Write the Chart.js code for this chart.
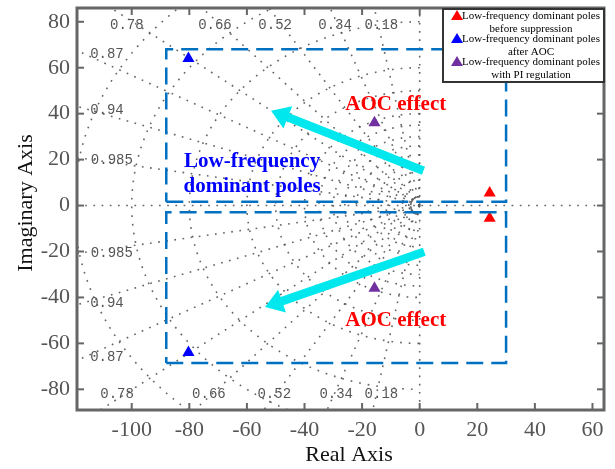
<!DOCTYPE html>
<html><head><meta charset="utf-8">
<script src="https://cdn.jsdelivr.net/npm/chart.js@4"></script>
<style>html,body{margin:0;padding:0;background:#fff;overflow:hidden}#wrap{width:615px;height:469px;position:relative}</style>
</head><body><div id="wrap"><canvas id="c" width="615" height="469"></canvas></div>
<script>
// ---- data ----
const xTicks = [-100, -80, -60, -40, -20, 0, 20, 40, 60];
const yTicks = [-80, -60, -40, -20, 0, 20, 40, 60, 80];
const xRange = [-119, 64];
const yRange = [-89, 86];
const xTitle = 'Real Axis';
const yTitle = 'Imaginary Axis';

const seriesLine1 = ['Low-frequency dominant poles', 'Low-frequency dominant poles', 'Low-frequency dominant poles'];
const seriesLine2 = ['before suppression', 'after AOC', 'with PI regulation'];
const seriesColors = ['#FF0000', '#0000FF', '#7030A0'];
const beforeRe = [24.3, 24.3];
const beforeIm = [5.5, -5.5];
const aocRe = [-80.3, -80.3];
const aocIm = [64, -64];
const piRe = [-15.7, -15.7];
const piIm = [36, -36];

const dampingRatios = [0.18, 0.34, 0.52, 0.66, 0.78, 0.87, 0.94, 0.985];
const naturalFreqs = [3.8, 7.5, 11, 14.5, 18, 22, 26, 30, 35, 40, 50, 60, 80, 100, 120];
const dampLabelText = ['0.78', '0.66', '0.52', '0.34', '0.18', '0.87', '0.94', '0.985'];
const dampLabelXTop = [-101.7, -71.1, -50.2, -29.4, -13.3, -108.6, -108.6, -106.9];
const dampLabelYTop = [78.6, 78.6, 78.6, 78.6, 78.6, 66, 41.6, 19.9];
const dampLabelXBot = [-105.1, -73.2, -50.5, -29.0, -13.3, -108.6, -108.6, -106.9];
const dampLabelYBot = [-82.3, -82.3, -82.3, -82.3, -82.3, -66.2, -42.7, -20.6];

const rectRe = [-88, 30];
const upperRectIm = [1.7, 68];
const lowerRectIm = [-68.5, -2.9];

const arrowTailRe = [1.3, 1.6];
const arrowTailIm = [15.1, -20.1];
const arrowTipRe = [-51.6, -53.7];
const arrowTipIm = [41.3, -44.2];

const noteAOCRe = [-8.3, -8.3];
const noteAOCIm = [41.6, -52.3];
const noteLowRe = -58.2;
const noteLowIm = [16.8, 5.8];
const noteLowText = ['Low-frequency', 'dominant poles'];

// ---- helpers ----
const pts = (xs, ys) => xs.map((x, i) => ({x: x, y: ys[i]}));
const rectPts = (xs, ys) => [
  {x: xs[0], y: ys[0]}, {x: xs[1], y: ys[0]}, {x: xs[1], y: ys[1]}, {x: xs[0], y: ys[1]}, {x: xs[0], y: ys[0]}
];
const SERIF = '"Liberation Serif", "Times New Roman", serif';

function triangle(ctx, x, y, w, h, color) {
  ctx.beginPath();
  ctx.moveTo(x, y - h * 0.6);
  ctx.lineTo(x + w / 2, y + h * 0.4);
  ctx.lineTo(x - w / 2, y + h * 0.4);
  ctx.closePath();
  ctx.fillStyle = color;
  ctx.fill();
}

const gridPlugin = {
  id: 'sgrid',
  beforeDatasetsDraw(chart) {
    const {ctx, chartArea: a, scales: {x, y}} = chart;
    ctx.save();
    ctx.beginPath();
    ctx.rect(a.left, a.top, a.right - a.left, a.bottom - a.top);
    ctx.clip();
    ctx.strokeStyle = 'rgba(85,85,85,0.9)';
    ctx.lineWidth = 1.6;
    ctx.setLineDash([1.7, 6.5]);
    const X = v => x.getPixelForValue(v), Y = v => y.getPixelForValue(v);
    ctx.beginPath(); ctx.moveTo(X(xRange[0]), Y(0)); ctx.lineTo(X(xRange[1]), Y(0)); ctx.stroke();
    ctx.beginPath(); ctx.moveTo(X(0), Y(yRange[0])); ctx.lineTo(X(0), Y(yRange[1])); ctx.stroke();
    dampingRatios.forEach(z => {
      const s = Math.sqrt(1 - z * z), L = 400;
      [1, -1].forEach(sg => {
        ctx.beginPath(); ctx.moveTo(X(0), Y(0)); ctx.lineTo(X(-z * L), Y(sg * s * L)); ctx.stroke();
      });
    });
    naturalFreqs.forEach((w, k) => {
      ctx.setLineDash(k === 0 ? [2, 1.5] : [1.7, 7]);
      ctx.beginPath();
      for (let i = 0; i <= 180; i++) {
        const t = Math.PI / 2 + Math.PI * i / 180;
        const px = X(w * Math.cos(t)), py = Y(w * Math.sin(t));
        if (i === 0) ctx.moveTo(px, py); else ctx.lineTo(px, py);
      }
      ctx.stroke();
    });
    ctx.setLineDash([]);
    ctx.fillStyle = '#555';
    ctx.font = '14px "Liberation Mono", "DejaVu Sans Mono", monospace';
    ctx.textAlign = 'center';
    ctx.textBaseline = 'middle';
    dampLabelText.forEach((t, i) => {
      ctx.fillText(t, X(dampLabelXTop[i]), Y(dampLabelYTop[i]));
      ctx.fillText(t, X(dampLabelXBot[i]), Y(dampLabelYBot[i]));
    });
    ctx.restore();
  },
  afterDatasetsDraw(chart) {
    const {ctx, scales: {x, y}} = chart;
    const X = v => x.getPixelForValue(v), Y = v => y.getPixelForValue(v);
    ctx.save();
    arrowTailRe.forEach((_, i) => {
      const tx = X(arrowTailRe[i]), ty = Y(arrowTailIm[i]);
      const hx = X(arrowTipRe[i]), hy = Y(arrowTipIm[i]);
      const dx = hx - tx, dy = hy - ty, len = Math.hypot(dx, dy);
      const ux = dx / len, uy = dy / len, nx = -uy, ny = ux;
      const sw = 4.3, hw = 12, hl = 18;
      const bx = hx - ux * hl, by = hy - uy * hl;
      ctx.beginPath();
      ctx.moveTo(tx + nx * sw, ty + ny * sw);
      ctx.lineTo(bx + nx * sw, by + ny * sw);
      ctx.lineTo(bx + nx * hw, by + ny * hw);
      ctx.lineTo(hx, hy);
      ctx.lineTo(bx - nx * hw, by - ny * hw);
      ctx.lineTo(bx - nx * sw, by - ny * sw);
      ctx.lineTo(tx - nx * sw, ty - ny * sw);
      ctx.closePath();
      ctx.fillStyle = '#00E8EE';
      ctx.fill();
    });
    ctx.textBaseline = 'alphabetic';
    ctx.textAlign = 'center';
    ctx.font = 'bold 21px ' + SERIF;
    ctx.fillStyle = '#FF0000';
    noteAOCRe.forEach((r, i) => ctx.fillText('AOC effect', X(r), Y(noteAOCIm[i])));
    ctx.fillStyle = '#0000FF';
    noteLowText.forEach((t, i) => ctx.fillText(t, X(noteLowRe), Y(noteLowIm[i])));
    ctx.restore();
  },
  afterDraw(chart) {
    const {ctx, chartArea: a, scales: {x, y}} = chart;
    ctx.save();
    ctx.strokeStyle = '#666';
    ctx.lineWidth = 3;
    ctx.strokeRect(a.left, a.top, a.right - a.left, a.bottom - a.top);
    ctx.lineWidth = 2;
    xTicks.forEach(v => {
      const px = x.getPixelForValue(v);
      ctx.beginPath(); ctx.moveTo(px, a.bottom); ctx.lineTo(px, a.bottom - 7); ctx.stroke();
      ctx.beginPath(); ctx.moveTo(px, a.top); ctx.lineTo(px, a.top + 7); ctx.stroke();
    });
    yTicks.forEach(v => {
      const py = y.getPixelForValue(v);
      ctx.beginPath(); ctx.moveTo(a.left, py); ctx.lineTo(a.left + 7, py); ctx.stroke();
      ctx.beginPath(); ctx.moveTo(a.right, py); ctx.lineTo(a.right - 7, py); ctx.stroke();
    });
    ctx.fillStyle = '#111';
    ctx.font = '22px ' + SERIF;
    ctx.textAlign = 'center';
    ctx.textBaseline = 'middle';
    ctx.fillText(xTitle, 349, 455);
    ctx.save();
    ctx.translate(26, 203);
    ctx.rotate(-Math.PI / 2);
    ctx.fillText(yTitle, 0, 0);
    ctx.restore();
    const lx = 443, ly = 9, lw = 161, lh = 73;
    ctx.fillStyle = '#fff';
    ctx.fillRect(lx, ly, lw, lh);
    ctx.strokeStyle = '#333';
    ctx.lineWidth = 2;
    ctx.strokeRect(lx, ly, lw, lh);
    ctx.font = '11px ' + SERIF;
    seriesLine1.forEach((t, i) => {
      const cy = 16 + i * 23;
      triangle(ctx, 457, cy, 12, 10, seriesColors[i]);
      ctx.fillStyle = '#000';
      ctx.textAlign = 'center';
      ctx.fillText(t, 531, cy);
      ctx.fillText(seriesLine2[i], 531, cy + 13);
    });
    ctx.restore();
  }
};

const tickFont = {family: SERIF, size: 22};
new Chart(document.getElementById('c'), {
  type: 'scatter',
  data: {
    datasets: [
      {label: 'upper box', data: rectPts(rectRe, upperRectIm), showLine: true, borderColor: '#0070C0', borderWidth: 2.5, borderDash: [17, 8], pointRadius: 0, fill: false},
      {label: 'lower box', data: rectPts(rectRe, lowerRectIm), showLine: true, borderColor: '#0070C0', borderWidth: 2.5, borderDash: [17, 8], pointRadius: 0, fill: false},
      {label: seriesLine1[0] + ' ' + seriesLine2[0], data: pts(beforeRe, beforeIm), pointStyle: 'triangle', pointRadius: 7, backgroundColor: seriesColors[0], borderColor: seriesColors[0], borderWidth: 0},
      {label: seriesLine1[1] + ' ' + seriesLine2[1], data: pts(aocRe, aocIm), pointStyle: 'triangle', pointRadius: 7, backgroundColor: seriesColors[1], borderColor: seriesColors[1], borderWidth: 0},
      {label: seriesLine1[2] + ' ' + seriesLine2[2], data: pts(piRe, piIm), pointStyle: 'triangle', pointRadius: 7, backgroundColor: seriesColors[2], borderColor: seriesColors[2], borderWidth: 0}
    ]
  },
  options: {
    responsive: false,
    animation: false,
    events: [],
    layout: {padding: {top: 8, right: 11, left: 0, bottom: 0}},
    plugins: {legend: {display: false}, tooltip: {enabled: false}},
    scales: {
      x: {
        type: 'linear', min: xRange[0], max: xRange[1],
        afterBuildTicks: a => { a.ticks = xTicks.map(v => ({value: v})); },
        afterFit: s => { s.height = 59; s.paddingLeft = 0; s.paddingRight = 0; },
        grid: {display: false, drawTicks: false}, border: {display: false},
        ticks: {color: '#555', font: tickFont, padding: 7, maxRotation: 0, autoSkip: false, callback: v => String(v)}
      },
      y: {
        type: 'linear', min: yRange[0], max: yRange[1],
        afterBuildTicks: a => { a.ticks = yTicks.map(v => ({value: v})); },
        afterFit: s => { s.width = 77; s.paddingTop = 0; s.paddingBottom = 0; },
        grid: {display: false, drawTicks: false}, border: {display: false},
        ticks: {color: '#555', font: tickFont, padding: 7, autoSkip: false, callback: v => String(v)}
      }
    }
  },
  plugins: [gridPlugin]
});
</script>
</body></html>
